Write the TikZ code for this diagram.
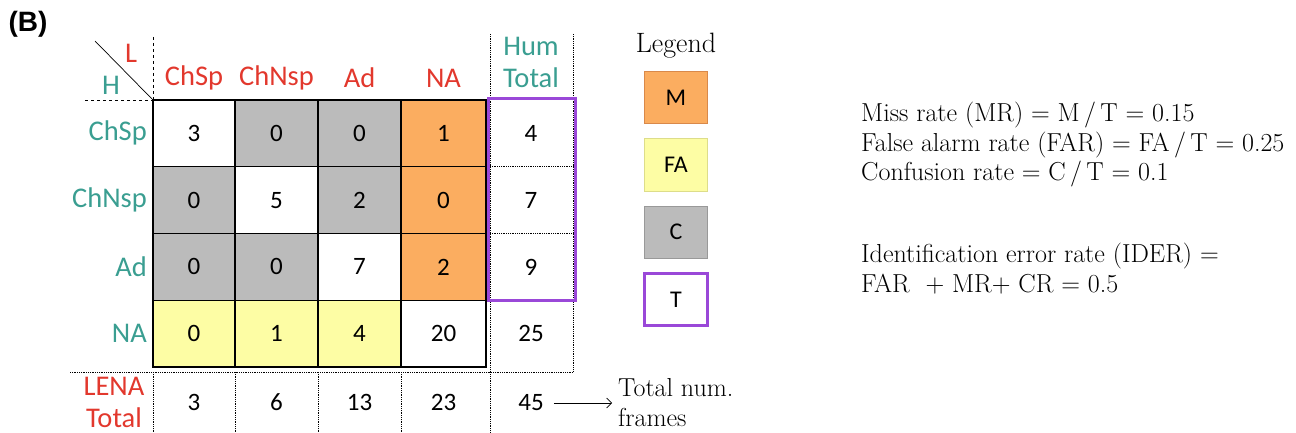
\documentclass[tikz,border=0pt]{standalone}
\usepackage{fontspec}
\setsansfont{Carlito}
\newfontfamily\arialfont{Liberation Sans}
\usetikzlibrary{arrows.meta}
\definecolor{lred}{HTML}{E2382D}
\definecolor{hteal}{HTML}{3A9E91}
\definecolor{cor}{HTML}{FBAD60}
\definecolor{corb}{HTML}{D9894A}
\definecolor{cyel}{HTML}{FDFDA4}
\definecolor{cyelb}{HTML}{DDDD8A}
\definecolor{cgray}{HTML}{BBBBBB}
\definecolor{cgrayb}{HTML}{999999}
\definecolor{cpur}{HTML}{9A48D8}
\begin{document}
\begin{tikzpicture}[x=1pt,y=-1pt,
  cell/.style={draw=black, line width=1.3pt, minimum height=66.75pt, inner sep=0pt, font=\sffamily\fontsize{25}{25}\selectfont, text=black},
  val/.style={inner sep=2pt, font=\sffamily\fontsize{25}{25}\selectfont},
  llab/.style={text=lred, inner sep=0pt, font=\sffamily\fontsize{28.5}{32}\selectfont},
  hlab/.style={text=hteal, inner sep=0pt, font=\sffamily\fontsize{28.5}{32}\selectfont},
  legbox/.style={minimum width=63pt, minimum height=52pt, line width=1pt, inner sep=0pt, font=\sffamily\fontsize{24}{24}\selectfont},
  serif/.style={inner sep=0pt, font=\rmfamily\fontsize{26}{30}\selectfont},
  grid/.style={densely dotted, line width=0.8pt},
  corner/.style={dashed, line width=0.8pt},
  arrow/.style={-{Straight Barb[length=5pt,width=10pt]}, line width=0.6pt}
]
\useasboundingbox (0,0) rectangle (1296,433);

% title
\node[inner sep=0pt, font=\arialfont\bfseries\fontsize{28}{28}\selectfont] (title) at (28,24) {(B)};

% corner
\draw[line width=0.7pt] (95,41) -- (152,99);
\node[llab] (lL) at (131,53) {L};
\node[hlab] (lH) at (111,85) {H};
\draw[corner] (153,37) -- (153,100);
\draw[corner] (85,100) -- (153,100);

% column headers
\node[llab] (c1) at (194,78) {ChSp};
\node[llab] (c2) at (276.5,78) {ChNsp};
\node[llab] (c3) at (359.5,78) {Ad};
\node[llab] (c4) at (443.5,78) {NA};
\node[hlab, align=center] (c5) at (531,62) {Hum\\Total};

% row headers
\node[hlab, anchor=east] (r1) at (147,133.4) {ChSp};
\node[hlab, anchor=east] (r2) at (147,200.1) {ChNsp};
\node[hlab, anchor=east] (r3) at (147,266.9) {Ad};
\node[hlab, anchor=east] (r4) at (147,333.6) {NA};
\node[llab, align=center] (r5) at (114,402) {LENA\\Total};

% dotted grid
\draw[grid] (490,34) -- (490,433);
\draw[grid] (573,34) -- (573,372);
\draw[grid] (70,372) -- (573,372);
\draw[grid] (490,166.75) -- (573,166.75);
\draw[grid] (490,233.5) -- (573,233.5);
\draw[grid] (490,300.25) -- (573,300.25);
\foreach \x in {153,235,318,401} \draw[grid] (\x,372) -- (\x,433);

% matrix  (column edges 153,235,318,401,486)
\tikzset{k1/.style={minimum width=82pt}, k2/.style={minimum width=83pt}, k3/.style={minimum width=83pt}, k4/.style={minimum width=85pt}}
\node[cell, k1, fill=white] (m11) at (194,133.4) {3};
\node[cell, k2, fill=cgray] (m12) at (276.5,133.4) {0};
\node[cell, k3, fill=cgray] (m13) at (359.5,133.4) {0};
\node[cell, k4, fill=cor]   (m14) at (443.5,133.4) {1};
\node[cell, k1, fill=cgray] (m21) at (194,200.1) {0};
\node[cell, k2, fill=white] (m22) at (276.5,200.1) {5};
\node[cell, k3, fill=cgray] (m23) at (359.5,200.1) {2};
\node[cell, k4, fill=cor]   (m24) at (443.5,200.1) {0};
\node[cell, k1, fill=cgray] (m31) at (194,266.9) {0};
\node[cell, k2, fill=cgray] (m32) at (276.5,266.9) {0};
\node[cell, k3, fill=white] (m33) at (359.5,266.9) {7};
\node[cell, k4, fill=cor]   (m34) at (443.5,266.9) {2};
\node[cell, k1, fill=cyel]  (m41) at (194,333.6) {0};
\node[cell, k2, fill=cyel]  (m42) at (276.5,333.6) {1};
\node[cell, k3, fill=cyel]  (m43) at (359.5,333.6) {4};
\node[cell, k4, fill=white] (m44) at (443.5,333.6) {20};

% hum totals
\node[val] (h1) at (531,133.4) {4};
\node[val] (h2) at (531,200.1) {7};
\node[val] (h3) at (531,266.9) {9};
\node[val] (h4) at (531,333.6) {25};
\node[draw=cpur, line width=3pt, minimum width=87pt, minimum height=202pt, inner sep=0pt] (tbox) at (531.5,199.5) {};

% lena totals
\node[val] (t1) at (194,402) {3};
\node[val] (t2) at (276.5,402) {6};
\node[val] (t3) at (359.5,402) {13};
\node[val] (t4) at (443.5,402) {23};
\node[val] (t5) at (531,403) {45};
\node[serif, anchor=west, align=left, inner sep=3pt] (tnf) at (615,403) {Total num.\\frames};
\draw[arrow, shorten <=8pt, shorten >=3pt] (t5) -- (tnf);

% legend
\node[serif, font=\rmfamily\fontsize{28}{28}\selectfont] (leg) at (676,46) {Legend};
\node[legbox, fill=cor, draw=corb] (lM) at (676,98) {M};
\node[legbox, fill=cyel, draw=cyelb] (lFA) at (676,165) {FA};
\node[legbox, fill=cgray, draw=cgrayb] (lC) at (676,232) {C};
\node[legbox, fill=white, draw=cpur, line width=3pt] (lT) at (676,299.5) {T};

% formulas
\node[serif, anchor=base west] (f1) at (861,122) {Miss rate (MR) = M\,/\,T = 0.15};
\node[serif, anchor=base west] (f2) at (861,152) {False alarm rate (FAR) = FA\,/\,T = 0.25};
\node[serif, anchor=base west] (f3) at (861,181) {Confusion rate = C\,/\,T = 0.1};
\node[serif, anchor=base west] (f4) at (861,262) {Identification error rate (IDER) =};
\node[serif, anchor=base west] (f5) at (861,292) {FAR ~+ MR+ CR = 0.5};
\end{tikzpicture}
\end{document}
